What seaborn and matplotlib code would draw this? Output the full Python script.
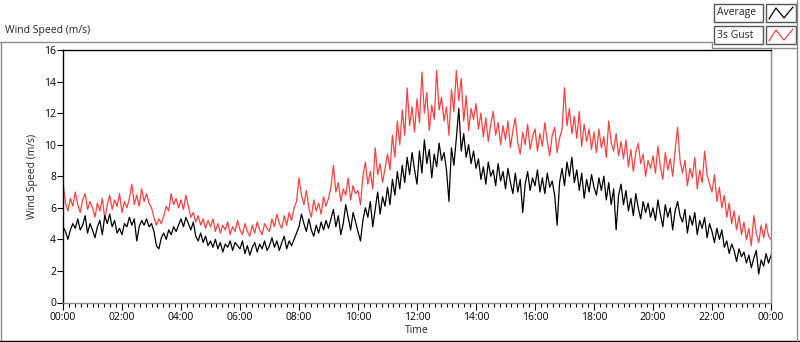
import numpy as np
import pandas as pd
import matplotlib
matplotlib.use('Agg')
import matplotlib.pyplot as plt
from matplotlib.patches import Rectangle
from matplotlib.lines import Line2D
from matplotlib.ticker import MultipleLocator, FuncFormatter
import seaborn as sns

# Wind speed readings every 5 minutes, 00:00 -> 24:00 (m/s)
average = [
    4.8, 4.5, 4.0, 4.6, 5.0, 4.7, 5.3, 4.6, 4.9, 5.5, 4.4, 5.0,
    4.6, 4.1, 4.8, 5.2, 4.3, 5.5, 5.0, 5.6, 4.8, 5.2, 4.4, 4.7,
    4.3, 5.0, 4.8, 5.4, 4.9, 5.3, 3.9, 4.8, 5.2, 4.9, 5.3, 4.8,
    5.0, 4.5, 3.6, 3.4, 4.1, 4.4, 4.0, 4.6, 4.3, 4.8, 4.5, 4.9,
    5.3, 4.8, 5.4, 5.0, 4.6, 5.1, 4.2, 3.9, 4.4, 3.8, 4.2, 3.6,
    3.9, 3.5, 4.0, 3.4, 3.8, 3.2, 3.7, 3.5, 3.9, 3.3, 3.8, 3.6,
    3.4, 3.9, 3.1, 3.6, 3.0, 3.5, 3.8, 3.2, 3.7, 3.4, 3.9, 3.3,
    3.6, 4.1, 3.5, 3.9, 3.3, 3.8, 4.2, 3.4, 3.9, 3.6, 4.0, 4.4,
    4.8, 5.6, 5.0, 4.5, 5.3, 4.6, 4.2, 4.9, 4.4, 5.1, 4.6, 5.2,
    4.7, 5.3, 5.9, 4.8, 5.5, 4.3, 5.0, 6.2, 5.4, 4.6, 5.7, 5.1,
    4.5, 3.9, 5.2, 6.0, 5.4, 6.4, 4.8, 5.9, 7.0, 5.6, 6.7, 6.1,
    7.3, 6.2, 7.8, 6.8, 8.3, 7.2, 8.7, 7.6, 9.2, 8.1, 9.5, 8.4,
    7.5, 9.6, 8.2, 10.3, 8.8, 9.7, 7.9, 9.4, 8.6, 10.1, 9.0, 9.5,
    8.4, 6.4, 9.8, 8.7, 10.4, 12.3, 9.6, 10.7, 9.2, 10.0, 8.8, 9.6,
    8.5, 9.1, 7.8, 8.6, 7.5, 8.9, 8.0, 8.4, 7.4, 8.8, 7.7, 8.3,
    7.2, 8.5, 7.6, 6.9, 8.2, 7.0, 7.8, 5.7, 7.5, 8.3, 7.1, 7.9,
    7.4, 8.4, 7.0, 7.9, 6.9, 8.2, 7.3, 7.7, 6.8, 4.9, 7.6, 8.5,
    7.4, 8.9, 8.0, 9.2, 7.6, 8.4, 7.1, 8.2, 6.6, 7.8, 7.0, 8.1,
    7.3, 6.8, 7.9, 7.1, 8.0, 6.5, 7.6, 6.2, 7.2, 4.6, 6.8, 7.5,
    6.2, 7.1, 5.8, 6.6, 5.5, 6.9, 6.0, 5.3, 6.4, 5.7, 6.3, 5.4,
    6.0, 5.2, 6.5, 5.6, 4.8, 6.2, 5.4, 6.0, 4.6, 5.8, 6.4, 5.5,
    5.1, 5.9, 4.4, 5.5, 4.9, 5.7, 4.3, 5.2, 4.7, 5.4, 4.1, 5.0,
    4.5, 3.8, 4.7, 4.0, 4.6, 3.5, 3.9, 3.1, 3.7, 3.3, 2.6, 3.4,
    2.9, 3.2, 2.5, 3.0, 2.2, 2.8, 3.3, 1.8, 2.7, 2.3, 3.1, 2.5,
    3.0,
]

gust = [
    7.6, 6.3, 5.8, 6.6, 6.1, 7.0, 6.2, 5.7, 6.5, 6.9, 5.9, 6.4,
    6.0, 5.4, 6.3, 5.8, 6.6, 5.3, 6.2, 6.8, 5.9, 6.5, 6.1, 6.9,
    5.7, 6.4, 6.0, 6.6, 7.5, 6.2, 6.8, 6.1, 7.2, 6.4, 6.9, 6.3,
    6.0, 5.4, 4.9, 5.3, 5.0, 5.5, 6.1, 5.8, 6.9, 6.2, 6.6, 6.0,
    6.5, 5.9, 6.8, 6.1, 5.4, 5.7, 5.1, 5.5, 4.9, 5.3, 4.7, 5.2,
    4.8, 5.3, 4.5, 5.0, 4.4, 4.9, 4.6, 5.1, 4.3, 4.8, 4.5, 5.2,
    4.6, 4.3, 5.0, 4.5, 4.2, 4.9, 4.4, 5.1, 4.6, 4.3, 5.0, 4.7,
    4.5, 5.3, 4.8, 5.6, 5.0, 4.7, 5.5, 4.9, 5.7, 5.2, 6.0, 6.4,
    7.9, 6.8, 6.2, 7.1, 6.0, 5.4, 6.5, 5.8, 6.3, 5.6, 6.7, 6.1,
    6.6, 7.3, 8.7, 7.0, 7.6, 6.4, 7.2, 6.8, 7.9, 6.5, 7.4, 6.9,
    7.1, 6.2, 8.0, 8.9, 7.5, 8.3, 7.2, 9.8, 8.1, 8.8, 7.6, 8.5,
    9.4, 8.4, 10.6, 9.2, 11.5, 10.0, 12.2, 10.6, 13.6, 11.2, 12.4, 10.8,
    12.9, 11.4, 14.6, 12.0, 13.3, 10.9, 12.5, 11.6, 14.7, 12.2, 13.0, 11.5,
    12.4, 10.6, 13.5, 12.1, 14.7, 12.8, 14.2, 11.5, 13.1, 10.9, 12.3, 11.6,
    12.6, 11.0, 12.0, 10.5, 11.7, 10.2, 11.3, 12.1, 10.6, 11.4, 10.0, 11.2,
    10.3, 11.5, 9.8, 10.9, 11.7, 10.1, 9.4, 10.8, 10.0, 11.3, 9.7, 10.5,
    11.0, 9.6, 10.7, 9.9, 11.4, 10.2, 9.3, 10.6, 11.1, 9.5, 10.4, 11.0,
    13.6, 11.2, 12.3, 10.7, 11.8, 10.4, 12.1, 9.9, 11.3, 10.2, 11.0, 9.7,
    10.8, 9.5, 11.0, 9.8, 10.5, 9.2, 11.5, 10.1, 9.6, 10.7, 9.3, 10.2,
    9.1, 10.3, 8.6, 9.7, 8.3, 9.5, 10.1, 8.8, 9.4, 8.0, 9.0, 8.5,
    9.3, 8.2, 9.9, 8.6, 7.8, 9.5, 8.4, 9.1, 8.0, 9.6, 11.1, 9.0,
    8.2, 9.0, 7.4, 8.5, 7.9, 9.2, 7.2, 8.4, 7.6, 9.6, 8.1, 7.5,
    7.0, 8.1, 6.4, 7.3, 6.0, 6.8, 5.4, 6.3, 5.0, 5.8, 4.6, 5.5,
    4.3, 5.1, 4.0, 4.7, 3.6, 5.5, 4.4, 3.8, 4.9, 4.1, 5.0, 4.2,
    4.0,
]

hours = np.arange(len(average)) * 5 / 60
tick_hours = [0, 2, 4, 6, 8, 10, 12, 14, 16, 18, 20, 22, 24]
y_ticks = [0, 2, 4, 6, 8, 10, 12, 14, 16]

df = pd.DataFrame({'Time': hours, 'Average': average, '3s Gust': gust})

sns.set_style('white')
plt.rcParams['font.family'] = ['Open Sans', 'DejaVu Sans']

W, H = 800, 342
fig = plt.figure(figsize=(W / 100, H / 100), dpi=100)

def fx(x):
    return x / W

def fy(y):
    return 1 - y / H

ax = fig.add_axes([fx(63), fy(302.5), fx(771) - fx(63), fy(50) - fy(302.5)])

sns.lineplot(data=df, x='Time', y='3s Gust', ax=ax, color='#ff4040', lw=0.9)
sns.lineplot(data=df, x='Time', y='Average', ax=ax, color='black', lw=0.9)

ax.set_xlim(0, 24)
ax.set_ylim(0, 16)
ax.set_xticks(tick_hours)
ax.xaxis.set_minor_locator(MultipleLocator(0.2))
ax.xaxis.set_major_formatter(FuncFormatter(lambda v, p: f"{int(v) % 24:02d}:00"))
ax.set_yticks(y_ticks)
ax.tick_params(axis='x', which='major', direction='out', length=5, width=0.8, labelsize=7.5, pad=2, colors='black')
ax.tick_params(axis='x', which='minor', direction='out', length=3, width=0.8, colors='black')
ax.tick_params(axis='y', which='major', direction='out', length=4, width=0.8, labelsize=7.5, pad=1, colors='black')
ax.tick_params(bottom=True, left=True, which='both')

for side, col in [('left', 'black'), ('top', 'black'), ('right', '#8c8c8c'), ('bottom', '#8c8c8c')]:
    ax.spines[side].set_visible(True)
    ax.spines[side].set_color(col)
    ax.spines[side].set_linewidth(1.0)

ax.set_xlabel('Time', fontsize=7.5, labelpad=1)
ax.set_ylabel('Wind Speed (m/s)', fontsize=7.5, labelpad=4)
ax.xaxis.set_label_coords((417 - 63) / (771 - 63), -(325 - 302.5) / (302.5 - 50))

# Outer graph frame
frame_col = '#8c8c8c'
fig.add_artist(Line2D([fx(0.5), fx(0.5)], [fy(42), fy(342)], color=frame_col, lw=1))
fig.add_artist(Line2D([fx(0), fx(712)], [fy(42), fy(42)], color=frame_col, lw=1))
fig.add_artist(Line2D([fx(0), fx(800)], [fy(341), fy(341)], color='black', lw=1))
fig.add_artist(Line2D([fx(797), fx(797)], [fy(0), fy(342)], color=frame_col, lw=1))
fig.add_artist(Line2D([fx(712), fx(712)], [fy(42), fy(48)], color=frame_col, lw=1))
fig.add_artist(Line2D([fx(712), fx(797)], [fy(48), fy(48)], color=frame_col, lw=1))

fig.text(fx(5), fy(30), 'Wind Speed (m/s)', fontsize=7.5, va='center', ha='left')

# Plot legend
for label, col, top in [('Average', 'black', 4), ('3s Gust', '#ff4040', 26)]:
    fig.add_artist(Rectangle((fx(714), fy(top + 18)), fx(49), fy(top) - fy(top + 18),
                             fill=True, facecolor='white', edgecolor='#555555', lw=1))
    fig.text(fx(717), fy(top + 9), label, fontsize=7.5, va='center', ha='left')
    fig.add_artist(Rectangle((fx(766), fy(top + 18)), fx(30), fy(top) - fy(top + 18),
                             fill=True, facecolor='white', edgecolor='#555555', lw=1))
    zx = [769, 776, 784, 793]
    zy = [top + 15, top + 4, top + 14, top + 3]
    fig.add_artist(Line2D([fx(v) for v in zx], [fy(v) for v in zy], color=col, lw=0.9))

fig.savefig('out.png', dpi=100)
